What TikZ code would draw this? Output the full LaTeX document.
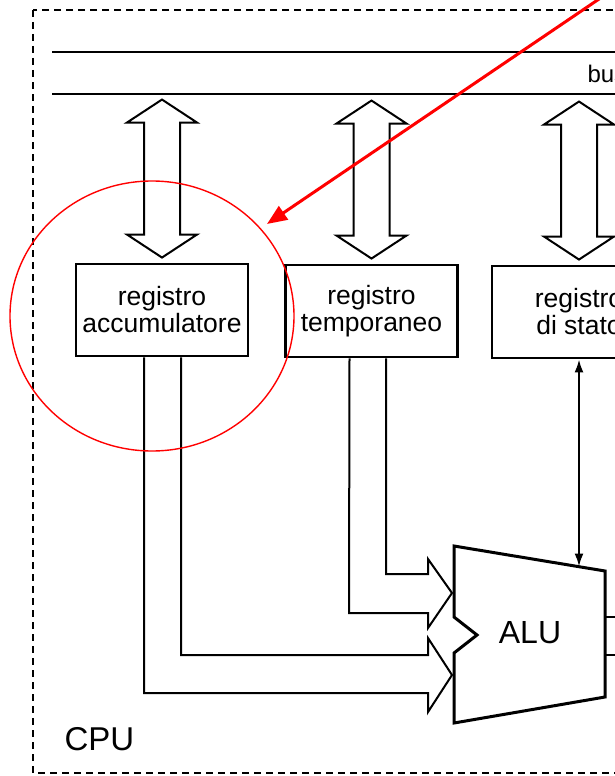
\documentclass[tikz,border=0pt]{standalone}
\usepackage{fontspec}
\setmainfont{Liberation Sans}
\usetikzlibrary{arrows.meta,calc,shapes.geometric}
\tikzset{
  regbox/.style={draw, line width=2.9pt, minimum width=172pt, minimum height=92pt,
    inner sep=0pt, align=center, font=\fontsize{26.5}{27}\selectfont},
  hollow/.style={draw, line width=2pt, line join=miter, fill=white},
  busline/.style={line width=2.3pt},
  cpuframe/.style={line width=2pt, dash pattern=on 7pt off 5pt},
  wire/.style={line width=2pt},
  redmark/.style={red, line width=1.4pt},
  redarrow/.style={red, line width=3pt, -{Triangle[length=20pt,width=16pt]}},
}
\begin{document}
\begin{tikzpicture}[x=1pt,y=-1pt]
\useasboundingbox (0,0) rectangle (615,776);
\clip (0,0) rectangle (615,776);
\fill[white] (0,0) rectangle (615,776);
% CPU frame
\draw[cpuframe] (33,10) rectangle (700,773);
\node[anchor=base west, font=\fontsize{33}{36}\selectfont] (cpu) at (61,750) {CPU};
% bus
\coordinate (busA) at (52,52);
\coordinate (busB) at (52,94);
\draw[busline] (busA) -- ++(600,0);
\draw[busline] (busB) -- ++(600,0);
\node[anchor=base west, font=\fontsize{24}{26}\selectfont] (bus) at (584,82) {bus};
% registers
\node[regbox] (acc) at (162,310) {registro\\accumulatore};
\node[regbox] (tmp) at (371.5,311) {registro\\temporaneo};
\node[regbox, minimum width=174pt] (stat) at (579,312) {registro\\di stato};
% double arrows between bus and registers
\foreach \r in {acc,tmp,stat}{
  \draw[hollow] ($(\r.north)+(0,-5)$) -- ++(-35,-23) -- ++(17,0) -- ++(0,-112)
     -- ++(-17,0) -- ++(35,-23) -- ++(35,23) -- ++(-17,0) -- ++(0,112)
     -- ++(17,0) -- cycle;
}
% ALU
\coordinate (aluTL) at (454,546);
\coordinate (aluBL) at (454,723);
\coordinate (aluBR) at (605,697);
\coordinate (aluTR) at (605,571);
\draw[line width=3pt, line join=miter, fill=white] (aluTL) -- (454,617) -- (477,635) -- (454,653)
   -- (aluBL) -- (aluBR) -- (aluTR) -- cycle;
\node[font=\fontsize{32}{34}\selectfont] (alu) at (530,633) {ALU};
\coordinate (aluStat) at (579,566.5);
\draw[wire, {Latex[length=13pt,width=9pt]}-{Latex[length=13pt,width=9pt]}] (stat.south) -- (aluStat);
% ALU outputs
\coordinate (out1) at (630,617);
\coordinate (out2) at (630,655);
\draw[wire] (aluBR |- out1) -- (out1);
\draw[wire] (aluBR |- out2) -- (out2);
% input arrows
\draw[wire, line join=miter] ($(tmp.south)+(-22,0)$) -- (349,613) -- (428,613) -- (428,628)
   -- (452,593) -- (428,559) -- (428,574) -- (386,574) -- ($(tmp.south)+(14.5,0)$);
\draw[wire, line join=miter] ($(acc.south)+(-18,0)$) -- (144,693) -- (428,693) -- (428,712)
   -- (452,675) -- (428,638) -- (428,655) -- (181,655) -- ($(acc.south)+(19,0)$);
% red annotation
\node[redmark, draw, ellipse, minimum width=284pt, minimum height=270pt] (ring) at (152,316) {};
\coordinate (rstart) at (602,-3);
\coordinate (rtip) at (267,224);
\draw[redarrow] (rstart) -- (rtip);
\end{tikzpicture}
\end{document}
